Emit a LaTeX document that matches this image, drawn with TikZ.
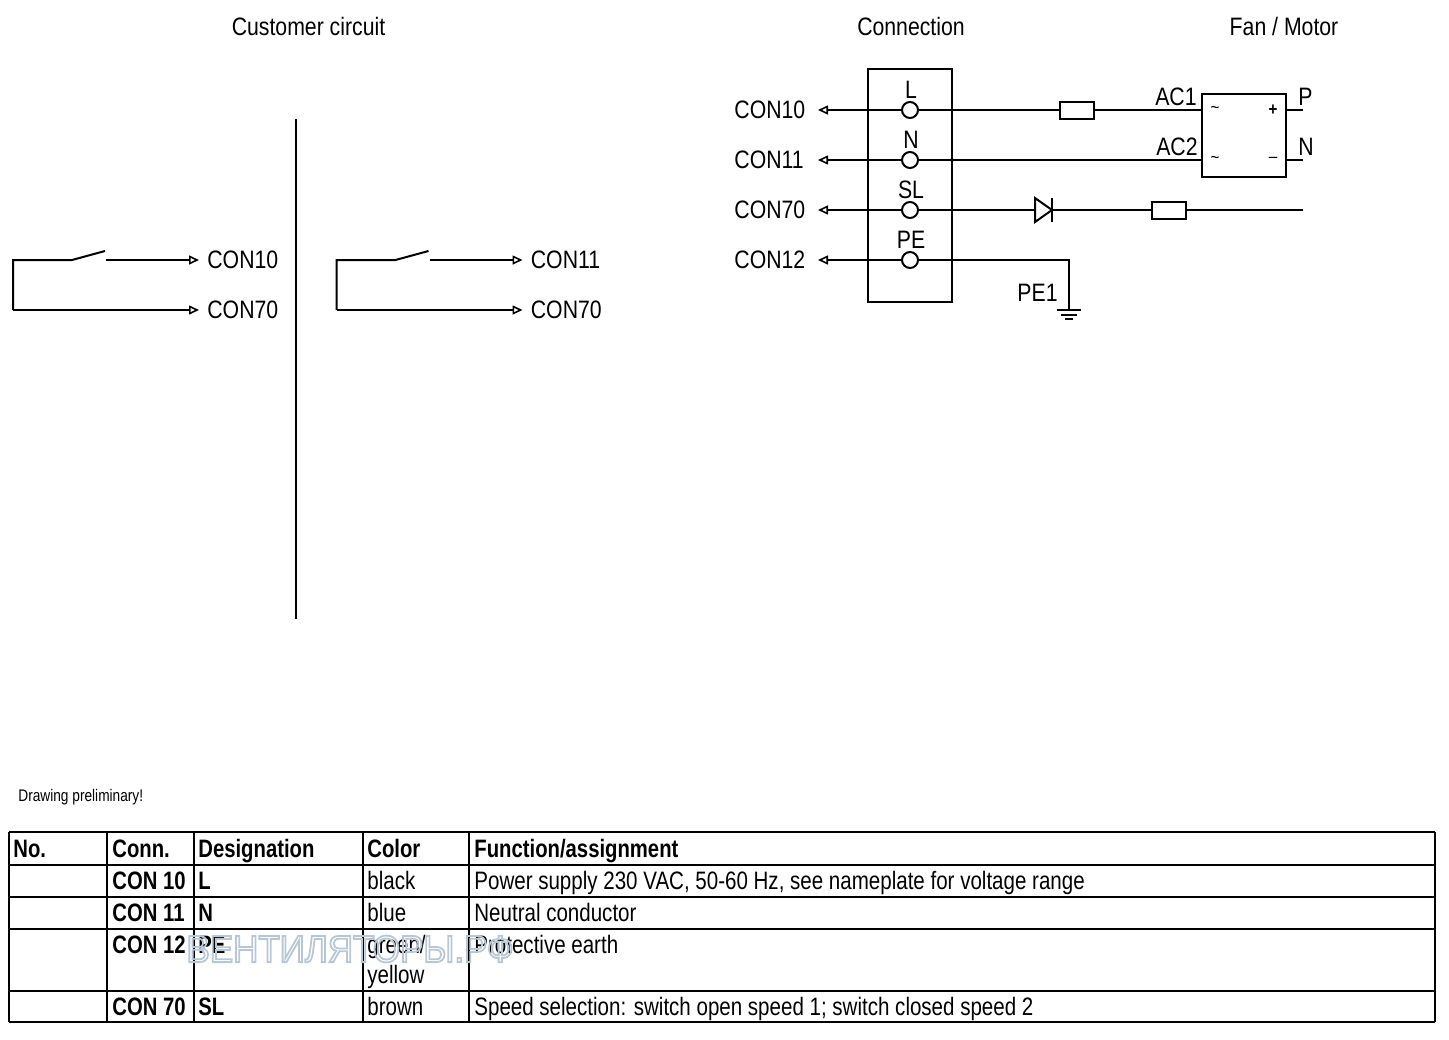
\documentclass[tikz,border=0pt]{standalone}
\usepackage{fontspec}
\setmainfont[FakeStretch=0.843]{Liberation Sans}
\newfontfamily\tablefont[FakeStretch=0.815]{Liberation Sans}
\newfontfamily\tablebold[FakeStretch=0.805]{Liberation Sans}
\newfontfamily\stampfont[FakeStretch=0.92]{Liberation Sans}
\usetikzlibrary{arrows.meta,positioning}
\tikzset{
	wire/.style={line width=1pt,line cap=butt},
	thinwire/.style={line width=0.8pt},
	sigarrow/.style={-{Triangle[open,length=5pt,width=4.5pt,line width=0.8pt]}},
	lbl/.style={inner sep=0pt,font=\fontsize{12.6}{14}\selectfont},
	cell/.style={inner sep=0pt,anchor=base west,font=\fontsize{12.6}{14}\selectfont\tablefont},
	cellb/.style={cell,font=\fontsize{12.6}{14}\selectfont\tablebold\bfseries},
	terminal/.style={circle,draw,line width=1pt,fill=white,inner sep=0pt,minimum size=8pt},
	part/.style={rectangle,draw,line width=1pt,fill=white,inner sep=0pt,minimum width=17pt,minimum height=8.5pt}
}
\begin{document}
\begin{tikzpicture}[x=0.5pt,y=-0.5pt]
	\useasboundingbox (0,0) rectangle (1449,1039);
	%Headings
	\node [lbl] (headCustomer) at (308.5,26) {Customer circuit};
	\node [lbl] (headConnection) at (911,26) {Connection};
	\node [lbl] (headFan) at (1284,26) {Fan / Motor};
	%Separator
	\coordinate (sepTop) at (296,119);
	\coordinate (sepBot) at (296,619);
	\draw [wire] (sepTop) -- (sepBot);
	%Customer circuits, left and right of the separator
	\foreach \name/\ox/\con in {a/0/CON10,b/323.5/CON11} {
		\coordinate (\name corner1) at (13+\ox,260);
		\coordinate (\name corner2) at (13+\ox,310);
		\coordinate (\name swA) at (72+\ox,260);
		\coordinate (\name swB) at (105+\ox,251);
		\coordinate (\name swC) at (106+\ox,260);
		\coordinate (\name endA) at (199+\ox,260);
		\coordinate (\name endB) at (199+\ox,310);
		\node [lbl,anchor=base west] (\name conA) at (207+\ox,268.5) {\con};
		\node [lbl,anchor=base west] (\name conB) at (207+\ox,318.5) {CON70};
		\draw [wire] (\name swB) -- (\name swA) -- (\name corner1) -- (\name corner2);
		\draw [wire,sigarrow] (\name swC) -- (\name endA);
		\draw [wire,sigarrow] (\name corner2) -- (\name endB);
	}
	%Connector housing
	\node [rectangle,draw,line width=1pt,minimum width=42pt,minimum height=116.5pt,inner sep=0pt] (housing) at (910,185.5) {};
	%Terminals and their wires
	\foreach \name/\y/\tag/\con in {L/110/L/CON10,N/160/N/CON11,SL/210/SL/CON70,PE/260/PE/CON12} {
		\coordinate (end\name) at (818,\y);
		\node [terminal] (term\name) at (910,\y) {};
		\node [lbl] (tag\name) at (911,\y-20) {\tag};
		\node [lbl,anchor=base west] (con\name) at (734,\y+8.5) {\con};
		\draw [wire,sigarrow] (term\name) -- (end\name);
	}
	%Fan / motor block
	\node [rectangle,draw,line width=1pt,minimum width=42pt,minimum height=41.5pt,inner sep=0pt] (motor) at (1244,135.5) {};
	\coordinate (ac1) at (1202,110);
	\coordinate (ac2) at (1202,160);
	\coordinate (outP) at (1286,110);
	\coordinate (outN) at (1286,160);
	\coordinate (stubP) at (1303,110);
	\coordinate (stubN) at (1303,160);
	\draw [wire] (termL) -- (ac1);
	\draw [wire] (termN) -- (ac2);
	\draw [wire] (outP) -- (stubP);
	\draw [wire] (outN) -- (stubN);
	\node [part] (fuse) at (1077,110.5) {};
	\node [lbl,anchor=base east] (lblAC1) at (1197,105.5) {AC1};
	\node [lbl,anchor=base east] (lblAC2) at (1198,155.5) {AC2};
	\node [lbl,anchor=base west] (lblP) at (1298,105.5) {P};
	\node [lbl,anchor=base west] (lblN) at (1298,155.5) {N};
	\node [inner sep=0pt,font=\fontsize{9}{10}\selectfont] (acA) at (1215,110) {\char"007E};
	\node [inner sep=0pt,font=\fontsize{9}{10}\selectfont] (acB) at (1215,160) {\char"007E};
	\node [inner sep=0pt,font=\fontsize{9}{10}\selectfont\bfseries] (plus) at (1273,110) {+};
	\node [inner sep=0pt,font=\fontsize{9}{10}\selectfont] (minus) at (1273,160) {\char"2013};
	%Speed line with diode and resistor
	\coordinate (slEnd) at (1303,210);
	\draw [wire] (termSL) -- (slEnd);
	\node [part] (resistor) at (1169,210.5) {};
	\coordinate (dioA) at (1035,198);
	\coordinate (dioB) at (1035,222);
	\coordinate (dioTip) at (1052,210);
	\coordinate (barTop) at (1052,198);
	\coordinate (barBot) at (1052,222);
	\draw [wire,fill=white] (dioA) -- (dioTip) -- (dioB) -- cycle;
	\draw [wire] (barTop) -- (barBot);
	%Earth
	\coordinate (peCorner) at (1069,260);
	\coordinate (peEnd) at (1069,310);
	\draw [wire] (termPE) -- (peCorner) -- (peEnd);
	\node [lbl,anchor=base east] (lblPE1) at (1058,301.5) {PE1};
	\draw [wire] (1057,310) -- (1081,310);
	\draw [wire] (1061,315) -- (1077,315);
	\draw [wire] (1065,319) -- (1073,319);
	%Note
	\node [inner sep=0pt,anchor=base west,font=\fontsize{8.4}{9}\selectfont\tablefont] (note) at (18,801) {Drawing preliminary!};
	%Table
	\foreach \y in {832,865,897,929,991,1022} {
		\draw [thinwire] (9,\y) -- (1435,\y);
	}
	\foreach \x in {9,107,194,363,469,1435} {
		\draw [thinwire] (\x,832) -- (\x,1022);
	}
	\node [cellb] (hNo) at (13,857) {No.};
	\node [cellb] (hConn) at (112,857) {Conn.};
	\node [cellb] (hDes) at (198,857) {Designation};
	\node [cellb] (hCol) at (367,857) {Color};
	\node [cellb] (hFun) at (474,857) {Function/assignment};
	\node [cellb] (c1) at (112,889) {CON 10};
	\node [cellb] (d1) at (198,889) {L};
	\node [cell] (k1) at (367,889) {black};
	\node [cell] (f1) at (474,889) {Power supply 230 VAC, 50-60 Hz, see nameplate for voltage range};
	\node [cellb] (c2) at (112,921) {CON 11};
	\node [cellb] (d2) at (198,921) {N};
	\node [cell] (k2) at (367,921) {blue};
	\node [cell] (f2) at (474,921) {Neutral conductor};
	\node [cellb] (c3) at (112,953) {CON 12};
	\node [cellb] (d3) at (198,953) {PE};
	\node [cell] (k3) at (367,953) {green/};
	\node [cell] (k3b) at (367,983) {yellow};
	\node [cell] (f3) at (474,953) {Protective earth};
	\node [cellb] (c4) at (112,1015) {CON 70};
	\node [cellb] (d4) at (198,1015) {SL};
	\node [cell] (k4) at (367,1015) {brown};
	\node [cell] (f4) at (474,1015) {Speed selection: switch open speed 1; switch closed speed 2};
	%Stamp across the table, outlined letters
	\node [inner sep=0pt,font=\fontsize{19}{20}\selectfont\stampfont] (stamp) at (350,949) {\special{pdf:code q 1 Tr 0.9 w 0.72 0.78 0.84 RG}ВЕНТИЛЯТОРЫ.РФ\special{pdf:code 0 Tr Q}};
\end{tikzpicture}
\end{document}
